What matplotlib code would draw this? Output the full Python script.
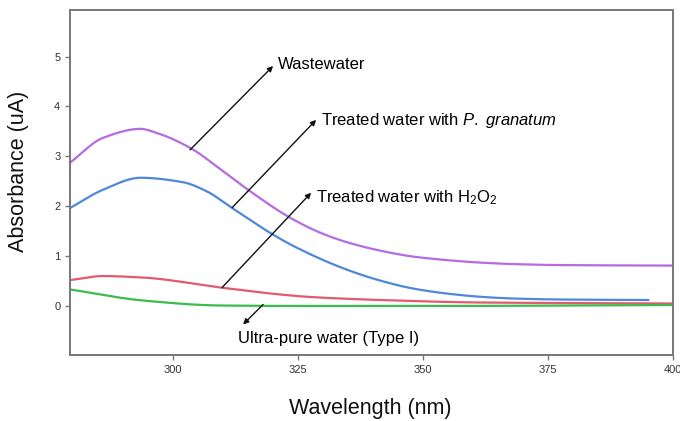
import numpy as np
import matplotlib
matplotlib.use("Agg")
import matplotlib.pyplot as plt

plt.rcParams['font.family'] = ['Liberation Sans', 'DejaVu Sans']
plt.rcParams['mathtext.fontset'] = 'custom'
plt.rcParams['mathtext.rm'] = 'Liberation Sans'
plt.rcParams['mathtext.it'] = 'Liberation Sans:italic'

# values
wl_waste = [279.5, 286, 293.5, 296.7, 303.4, 310, 315.4, 323.4, 329.4, 334.7, 341.4, 348, 354.7, 361.4, 368, 377.4, 400]
waste = [2.88, 3.37, 3.55, 3.47, 3.17, 2.70, 2.30, 1.77, 1.47, 1.28, 1.11, 0.99, 0.92, 0.87, 0.84, 0.82, 0.81]

wl_pg = [279.5, 286, 293.5, 302, 306.7, 311.7, 320, 324.7, 334.7, 341.4, 348, 354.7, 361.4, 368, 377.4, 395]
pg = [1.97, 2.33, 2.57, 2.48, 2.30, 1.97, 1.43, 1.17, 0.73, 0.51, 0.35, 0.25, 0.185, 0.15, 0.13, 0.12]

wl_h2o2 = [279.5, 286, 294, 309.5, 321.5, 327.5, 341.5, 361.5, 400]
h2o2 = [0.52, 0.60, 0.57, 0.37, 0.23, 0.18, 0.12, 0.07, 0.05]

wl_pure = [279.5, 294, 309.5, 327.5, 350, 400]
pure = [0.33, 0.11, 0.01, 0.0, 0.0, 0.02]

series_colors = ['#B46BE4', '#4E88D8', '#E05A70', '#3DBB4C']


def smooth(x, y, n=400):
    # monotone cubic through the read points
    x = np.asarray(x, float)
    y = np.asarray(y, float)
    xs = np.linspace(x[0], x[-1], n)
    h = np.diff(x)
    d = np.diff(y) / h
    m = np.zeros_like(y)
    m[0], m[-1] = d[0], d[-1]
    for i in range(1, len(y) - 1):
        if d[i - 1] * d[i] <= 0:
            m[i] = 0
        else:
            w1 = 2 * h[i] + h[i - 1]
            w2 = h[i] + 2 * h[i - 1]
            m[i] = (w1 + w2) / (w1 / d[i - 1] + w2 / d[i])
    idx = np.clip(np.searchsorted(x, xs) - 1, 0, len(x) - 2)
    t = (xs - x[idx]) / h[idx]
    h00 = 2 * t**3 - 3 * t**2 + 1
    h10 = t**3 - 2 * t**2 + t
    h01 = -2 * t**3 + 3 * t**2
    h11 = t**3 - t**2
    ys = h00 * y[idx] + h10 * h[idx] * m[idx] + h01 * y[idx + 1] + h11 * h[idx] * m[idx + 1]
    return xs, ys


fig = plt.figure(figsize=(6.8, 4.21), dpi=100)
ax = fig.add_axes([0.103, 0.157, 0.887, 0.819])

for (x, y), c in zip([(wl_waste, waste), (wl_pg, pg), (wl_h2o2, h2o2), (wl_pure, pure)], series_colors):
    xs, ys = smooth(x, y)
    ax.plot(xs, ys, color=c, lw=1.6)

ax.set_xlim(279.4, 400)
ax.set_ylim(-0.98, 5.93)
ax.set_xticks([300, 325, 350, 375, 400])
ax.set_yticks([0, 1, 2, 3, 4, 5])
ax.tick_params(direction='out', length=3.5, width=1, colors='#777777', labelcolor='#333333', labelsize=8,
               top=False, right=False)
for s in ax.spines.values():
    s.set_color('#777777')
    s.set_linewidth(1.4)

ax.set_xlabel('Wavelength (nm)', fontsize=15.5, color='#111111')
ax.set_ylabel('Absorbance (uA)', fontsize=15.5, color='#111111')
ax.xaxis.set_label_coords(0.497, -0.125)
ax.yaxis.set_label_coords(-0.068, 0.533)

arrow = dict(arrowstyle='-|>', color='#111111', lw=1.0, mutation_scale=8, shrinkA=0, shrinkB=0)
ax.annotate('', xy=(320.0, 4.81), xytext=(303.4, 3.13), arrowprops=arrow)
ax.text(321.0, 4.83, 'Wastewater', fontsize=12, va='center', ha='left')
ax.annotate('', xy=(328.6, 3.73), xytext=(311.8, 1.97), arrowprops=arrow)
ax.text(329.6, 3.72, 'Treated water with $\\it{P.\\ granatum}$', fontsize=12, va='center', ha='left')
ax.annotate('', xy=(327.6, 2.27), xytext=(309.8, 0.37), arrowprops=arrow)
ax.text(328.6, 2.18, 'Treated water with H$_2$O$_2$', fontsize=12, va='center', ha='left')
ax.annotate('', xy=(314.0, -0.37), xytext=(318.0, 0.03), arrowprops=arrow)
ax.text(312.9, -0.66, 'Ultra-pure water (Type I)', fontsize=12, va='center', ha='left')

fig.savefig('out.png', dpi=100)
